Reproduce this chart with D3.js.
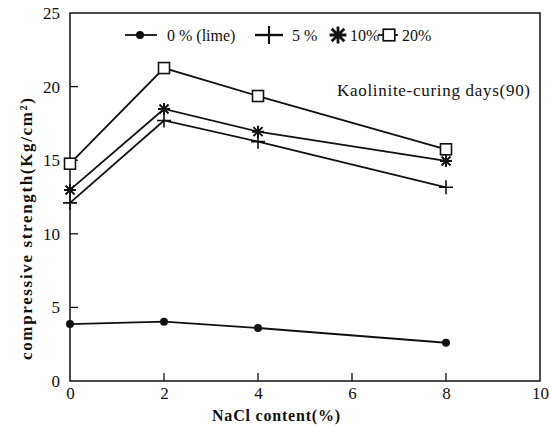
<!DOCTYPE html>
<html>
<head>
<meta charset="utf-8">
<script src="https://cdn.jsdelivr.net/npm/d3@7"></script>
<style>
  html, body { margin: 0; padding: 0; background: #fff; }
</style>
</head>
<body>
<svg id="chart" width="550" height="426"></svg>
<script>
// NaCl content (%) on the x axis
const nacl = [0, 2, 4, 8];

// Compressive strength (Kg/cm²) for each lime content
const lime0  = [3.87, 4.03, 3.60, 2.60];
const lime5  = [12.1, 17.7, 16.26, 13.16];
const lime10 = [12.98, 18.48, 16.94, 14.95];
const lime20 = [14.76, 21.26, 19.36, 15.74];

const seriesNames = ["0 % (lime)", "5 %", "10%", "20%"];
const seriesMarkers = ["dot", "plus", "star", "square"];
const xTicks = [0, 2, 4, 6, 8, 10];
const yTicks = [0, 5, 10, 15, 20, 25];

const series = [lime0, lime5, lime10, lime20].map((vals, i) => ({
  name: seriesNames[i],
  marker: seriesMarkers[i],
  points: nacl.map((x, j) => ({ x, y: vals[j] }))
}));

const serif = "'Liberation Serif', 'Times New Roman', Times, serif";
const svg = d3.select("#chart").attr("font-family", serif);
const plotLeft = 70, plotRight = 540, plotTop = 13, plotBottom = 381;

const x = d3.scaleLinear().domain([0, 10]).range([plotLeft, plotRight]);
const y = d3.scaleLinear().domain([0, 25]).range([plotBottom, plotTop]);

const ink = "#111";

// Frame
svg.append("rect")
  .attr("x", plotLeft).attr("y", plotTop)
  .attr("width", plotRight - plotLeft).attr("height", plotBottom - plotTop)
  .attr("fill", "none").attr("stroke", ink).attr("stroke-width", 1.5);

// Y axis with inward ticks
const yAxis = d3.axisLeft(y).tickValues(yTicks).tickSize(0).tickPadding(10);
const gy = svg.append("g").attr("transform", `translate(${plotLeft},0)`).call(yAxis)
  .attr("font-family", serif).attr("font-size", 17);
gy.select(".domain").remove();
gy.selectAll("text").attr("fill", ink);
svg.append("g").selectAll("line")
  .data(yTicks.filter(v => v > 0 && v < 25))
  .join("line")
  .attr("x1", plotLeft).attr("x2", plotLeft + 8)
  .attr("y1", d => y(d)).attr("y2", d => y(d))
  .attr("stroke", ink).attr("stroke-width", 1.3);

// X axis with inward ticks
const xAxis = d3.axisBottom(x).tickValues(xTicks).tickSize(0).tickPadding(6);
const gx = svg.append("g").attr("transform", `translate(0,${plotBottom})`).call(xAxis)
  .attr("font-family", serif).attr("font-size", 17);
gx.select(".domain").remove();
gx.selectAll("text").attr("fill", ink);
svg.append("g").selectAll("line")
  .data(xTicks.filter(v => v > 0 && v < 10))
  .join("line")
  .attr("x1", d => x(d)).attr("x2", d => x(d))
  .attr("y1", plotBottom).attr("y2", plotBottom - 8)
  .attr("stroke", ink).attr("stroke-width", 1.3);

// Axis titles
svg.append("text")
  .attr("x", 276).attr("y", 421)
  .attr("text-anchor", "middle")
  .attr("font-size", 16).attr("font-weight", "bold").attr("fill", ink)
  .attr("textLength", 128).attr("lengthAdjust", "spacing")
  .text("NaCl content(%)");

svg.append("text")
  .attr("transform", "translate(32,229) rotate(-90)")
  .attr("text-anchor", "middle")
  .attr("font-size", 17).attr("font-weight", "bold").attr("fill", ink)
  .attr("textLength", 262).attr("lengthAdjust", "spacing")
  .text("compressive strength(Kg/cm²)");

// Marker drawing; s scales the glyph (legend uses larger ones)
function drawMarker(g, type, cx, cy, s = 1) {
  if (type === "dot") {
    g.append("circle").attr("cx", cx).attr("cy", cy).attr("r", 4 * s).attr("fill", ink);
  } else if (type === "plus") {
    const r = 7 * s;
    g.append("path")
      .attr("d", `M${cx - r},${cy}H${cx + r}M${cx},${cy - r}V${cy + r}`)
      .attr("stroke", ink).attr("stroke-width", 1.6 * s).attr("fill", "none");
  } else if (type === "star") {
    const r = 6 * s;
    let d = `M${cx - r},${cy}H${cx + r}M${cx},${cy - r}V${cy + r}`;
    const k = r * 0.75;
    d += `M${cx - k},${cy - k}L${cx + k},${cy + k}M${cx - k},${cy + k}L${cx + k},${cy - k}`;
    g.append("path").attr("d", d).attr("stroke", ink).attr("stroke-width", 2 * s).attr("fill", "none");
  } else if (type === "square") {
    const h = 5.5 * s;
    g.append("rect").attr("x", cx - h).attr("y", cy - h)
      .attr("width", 2 * h).attr("height", 2 * h)
      .attr("fill", "#fff").attr("stroke", ink).attr("stroke-width", 1.6 * s);
  }
}

// Series lines and markers
const line = d3.line().x(d => x(d.x)).y(d => y(d.y));
series.forEach(s => {
  const g = svg.append("g");
  g.append("path").datum(s.points)
    .attr("d", line).attr("fill", "none")
    .attr("stroke", ink).attr("stroke-width", 1.8);
  s.points.forEach(p => drawMarker(g, s.marker, x(p.x), y(p.y)));
});

// Legend
const legendY = 35;
const legendItems = [
  { x1: 125, x2: 157, cx: 140, tx: 167, ms: 1 },
  { x1: 255, x2: 283, cx: 269, tx: 292, ms: 1.3 },
  { x1: 338, x2: 338, cx: 338, tx: 350, ms: 1.4 },
  { x1: 378, x2: 398, cx: 389, tx: 402, ms: 1.05 }
];
legendItems.forEach((it, i) => {
  const g = svg.append("g");
  if (it.x2 > it.x1) {
    g.append("line").attr("x1", it.x1).attr("x2", it.x2)
      .attr("y1", legendY).attr("y2", legendY)
      .attr("stroke", ink).attr("stroke-width", series[i].marker === "plus" ? 2.4 : 1.8);
  }
  drawMarker(g, series[i].marker, it.cx, legendY, it.ms);
  g.append("text").attr("x", it.tx).attr("y", legendY).attr("dy", "0.35em")
    .attr("font-size", 16).attr("fill", ink)
    .text(series[i].name);
});

// Annotation
svg.append("text")
  .attr("x", 337).attr("y", 90).attr("dy", "0.35em")
  .attr("font-size", 17).attr("fill", ink)
  .attr("textLength", 193).attr("lengthAdjust", "spacing")
  .text("Kaolinite-curing days(90)");
</script>
</body>
</html>
